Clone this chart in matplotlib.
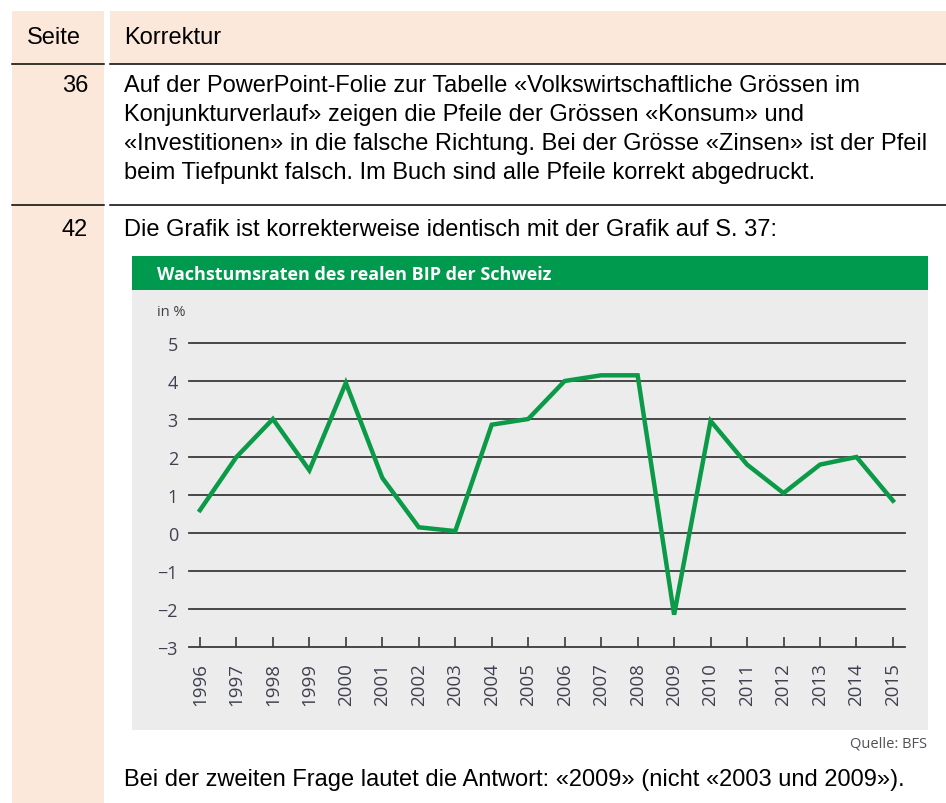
import matplotlib.pyplot as plt
from matplotlib.patches import Rectangle
from matplotlib.lines import Line2D

# Daten: Wachstumsraten des realen BIP der Schweiz (in %)
jahre = list(range(1996, 2016))
wachstum = [0.6, 2.0, 3.0, 1.65, 3.95, 1.45, 0.15, 0.05, 2.85, 3.0,
            4.0, 4.15, 4.15, -2.15, 2.95, 1.8, 1.05, 1.8, 2.0, 0.85]
y_ticks = [-3, -2, -1, 0, 1, 2, 3, 4, 5]

W, H = 946, 804
doc_font = 'Liberation Sans'
chart_font = 'Open Sans'
beige = '#fbe8da'
gruen = '#009a4e'
grau = '#ebeceb'

fig = plt.figure(figsize=(W / 100, H / 100), dpi=100)


# Pixel (von oben) -> Figure-Koordinaten
def fx(x):
    return x / W


def fy(y):
    return 1 - y / H


def rect(x0, y0, x1, y1, color):
    fig.patches.append(Rectangle((fx(x0), fy(y1)), fx(x1) - fx(x0), fy(y0) - fy(y1),
                                 transform=fig.transFigure, color=color, lw=0, zorder=-5))


def hline(x0, x1, y):
    fig.lines.append(Line2D([fx(x0), fx(x1)], [fy(y), fy(y)], transform=fig.transFigure,
                            color='black', lw=1.1, zorder=-4))


def txt(x, y, s, **kw):
    kw.setdefault('family', doc_font)
    kw.setdefault('fontsize', 17)
    kw.setdefault('va', 'center')
    fig.text(fx(x), fy(y), s, **kw)


# Tabelle
rect(12, 12, 104, H, beige)
rect(110, 12, W, 65, beige)
hline(12, 104, 65)
hline(110, W, 65)
hline(12, 104, 206)
hline(110, W, 206)

txt(27, 38, 'Seite')
txt(124, 38, 'Korrektur')
txt(88, 86, '36', ha='right')
zeilen = ['Auf der PowerPoint-Folie zur Tabelle «Volkswirtschaftliche Grössen im',
          'Konjunkturverlauf» zeigen die Pfeile der Grössen «Konsum» und',
          '«Investitionen» in die falsche Richtung. Bei der Grösse «Zinsen» ist der Pfeil',
          'beim Tiefpunkt falsch. Im Buch sind alle Pfeile korrekt abgedruckt.']
for i, z in enumerate(zeilen):
    txt(124, 86 + i * 29, z)
txt(88, 230, '42', ha='right')
txt(124, 230, 'Die Grafik ist korrekterweise identisch mit der Grafik auf S. 37:')
txt(124, 780, 'Bei der zweiten Frage lautet die Antwort: «2009» (nicht «2003 und 2009»).')

# Grafik-Kasten
rect(132, 257, 928, 291, gruen)
rect(132, 291, 928, 731, grau)
txt(157, 275, 'Wachstumsraten des realen BIP der Schweiz', family=chart_font,
    fontsize=13, fontweight='bold', color='white')
txt(157, 313, 'in %', family=chart_font, fontsize=10.5, color='#404048')
txt(927, 744, 'Quelle: BFS', family=chart_font, fontsize=10.5, color='#505058', ha='right')

ax = fig.add_axes([fx(189), fy(648), fx(905) - fx(189), fy(344) - fy(648)])
ax.set_facecolor('none')
for s in ax.spines.values():
    s.set_visible(False)
for v in y_ticks:
    ax.axhline(v, color='#3a3a3a', lw=1.3, zorder=1, clip_on=False)
ax.plot(jahre, wachstum, color='#0b9a48', lw=3.2, solid_joinstyle='miter', zorder=3)

ax.set_xlim(1995.7, 2015.33)
ax.set_ylim(-3, 5)
ax.set_yticks(y_ticks)
ax.set_yticklabels([str(v).replace('-', '\u2212') for v in y_ticks])
ax.set_xticks(jahre)
ax.set_xticklabels([str(j) for j in jahre], rotation=90)
ax.tick_params(axis='y', length=0, pad=8, labelsize=13, labelcolor='#404050')
ax.tick_params(axis='x', direction='in', length=7, width=1.2, color='#3a3a3a',
               pad=11, labelsize=13.5, labelcolor='#404050')
for lab in ax.get_xticklabels() + ax.get_yticklabels():
    lab.set_family(chart_font)

fig.savefig('out.png', dpi=100)
